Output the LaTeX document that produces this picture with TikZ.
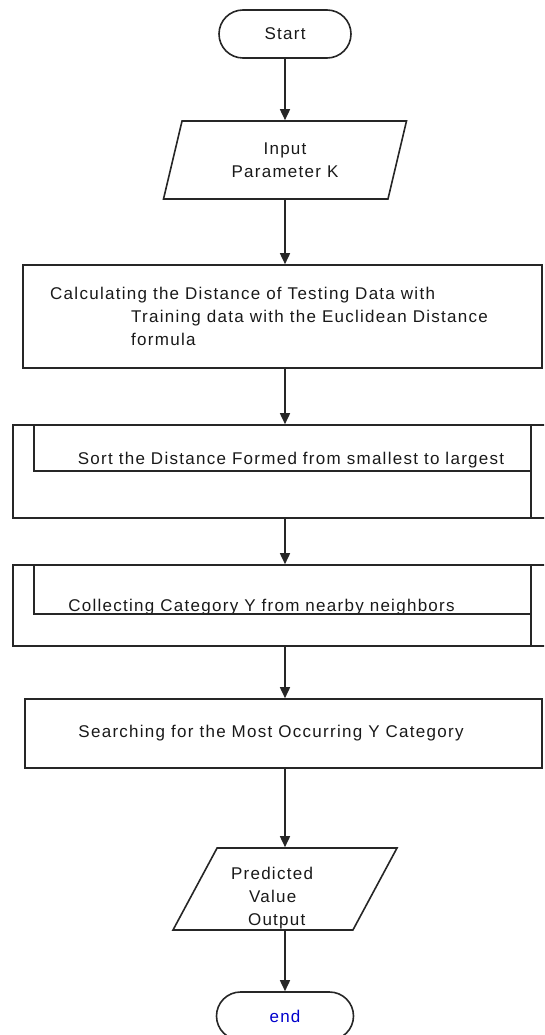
\documentclass[tikz,border=0pt]{standalone}
\usepackage{fontspec}
\setmainfont{Liberation Sans}[LetterSpace=7.5]
\usepackage{tikz}
\usetikzlibrary{arrows.meta,positioning,calc,shapes.geometric,shapes.misc}
\tikzset{
  term/.style={rounded rectangle, draw=black!85, line width=1.6pt,
    minimum width=132pt, minimum height=48pt, inner sep=0pt,
    font=\fontsize{17}{23}\selectfont, text=black!90},
  io/.style={trapezium, trapezium stretches body, draw=black!85, line width=1.6pt,
    inner sep=0pt, align=center, font=\fontsize{17}{23}\selectfont, text=black!90},
  proc/.style={rectangle, draw=black!85, line width=1.6pt, inner sep=0pt},
  lbl/.style={inner sep=0pt, font=\fontsize{17}{23}\selectfont, text=black!90},
  divider/.style={draw=black!85, line width=1.6pt},
  flow/.style={-{Triangle[length=11pt,width=10pt]}, line width=1.6pt, black!85}
}

\begin{document}
\begin{tikzpicture}[x=1pt, y=-1pt]
  \clip (0,0) rectangle (544,1035);

  % start and input
  \node[term] (start) at (285,34) {Start};
  \node[io, minimum width=243pt, minimum height=78pt,
    trapezium left angle=62, trapezium right angle=118] (inp) at (285,160)
    {Input\\Parameter K};

  % distance calculation
  \node[proc, minimum width=519pt, minimum height=103pt] (calc) at (282.5,316.5) {};
  \node[lbl, anchor=west, align=left] (calctxt) at (50,316.5)
    {Calculating the Distance of Testing Data with\\
     \hspace*{81pt}Training data with the Euclidean Distance\\
     \hspace*{81pt}formula};

  % sorting and collecting (double-sided boxes)
  \node[proc, minimum width=539pt, minimum height=93pt] (sort) at (282.5,471.5) {};
  \node[lbl] (sorttxt) at (291,460) {Sort the Distance Formed from smallest to largest};
  \node[proc, minimum width=539pt, minimum height=81pt] (coll) at (282.5,605.5) {};
  \node[lbl] (colltxt) at (261.5,607) {Collecting Category Y from nearby neighbors};
  \foreach \b/\d in {sort/47, coll/50}{
    \draw[divider] ([xshift=22pt]\b.north west) -- ++(0,\d) -| ([xshift=-22pt]\b.north east);
    \draw[divider] ([xshift=-22pt]\b.north east) -- ([xshift=-22pt]\b.south east);
  }

  % majority vote
  \node[proc, minimum width=517pt, minimum height=69pt] (srch) at (283.5,733.5) {};
  \node[lbl] (srchtxt) at (271,733) {Searching for the Most Occurring Y Category};

  % output and end
  \node[io, minimum width=224pt, minimum height=82pt, text width=108pt, align=left,
    trapezium left angle=61, trapezium right angle=119] (pred) at (285,889)
    {\rule{0pt}{30pt}Predicted\\\hspace*{18pt}Value\\\hspace*{17pt}Output};
  \node[term, minimum width=137pt, text=blue!80!black] (fin) at (285,1016) {end};

  % connectors
  \draw[flow] (start) -- (inp);
  \draw[flow] (inp.south) -- (inp.south |- calc.north);
  \draw[flow] (calc.south -| inp) -- (sort.north -| inp);
  \draw[flow] (sort.south -| inp) -- (coll.north -| inp);
  \draw[flow] (coll.south -| inp) -- (srch.north -| inp);
  \draw[flow] (srch.south -| inp) -- (pred);
  \draw[flow] (pred) -- (fin);
\end{tikzpicture}
\end{document}
